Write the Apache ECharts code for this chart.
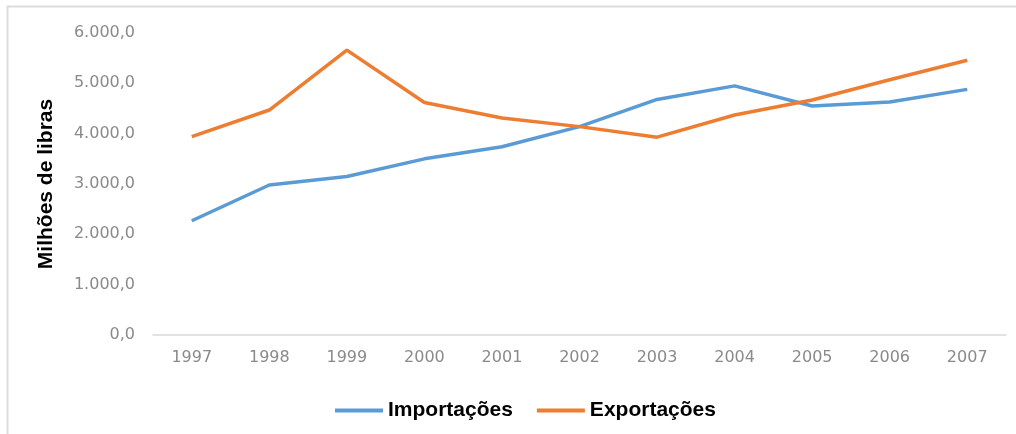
<!DOCTYPE html>
<html>
<head>
<meta charset="utf-8">
<script src="https://cdn.jsdelivr.net/npm/echarts@6/dist/echarts.min.js"></script>
<style>
html,body{margin:0;padding:0;background:#fff;}
#chart{width:1016px;height:434px;}
</style>
</head>
<body>
<div id="chart"></div>
<script>
var anos = ['1997','1998','1999','2000','2001','2002','2003','2004','2005','2006','2007'];
var importacoes = [2270, 2980, 3150, 3500, 3740, 4140, 4680, 4950, 4550, 4630, 4880];
var exportacoes = [3940, 4470, 5660, 4620, 4310, 4140, 3930, 4370, 4670, 5070, 5460];

function fmt(v) {		// 6000 -> 6.000,0
    var s = Math.round(v).toString().replace(/\B(?=(\d{3})+(?!\d))/g, '.');
    return s + ',0';
}

var myChart = echarts.init(document.getElementById('chart'));
var option = {
    color: ['#5b9bd5', '#ed7d31'],
    textStyle: { fontFamily: 'Liberation Sans' },
    graphic: [
        { type: 'line', shape: { x1: 7, y1: 6.5, x2: 1016, y2: 6.5 }, style: { stroke: '#dcdcdc', lineWidth: 2 } },
        { type: 'line', shape: { x1: 7.5, y1: 6, x2: 7.5, y2: 434 }, style: { stroke: '#dcdcdc', lineWidth: 2 } }
    ],
    grid: { left: 153, right: 10, top: 33, bottom: 99 },
    legend: {
        left: 330,
        top: 395,
        itemWidth: 48,
        itemHeight: 4,
        itemGap: 24,
        icon: 'rect',
        textStyle: { fontSize: 21, fontWeight: 'bold', color: '#000', fontFamily: 'Liberation Sans' },
        data: ['Importações', 'Exportações']
    },
    xAxis: {
        type: 'category',
        data: anos,
        boundaryGap: true,
        axisLine: { lineStyle: { color: '#d9d9d9', width: 1.5 } },
        axisTick: { show: false },
        axisLabel: { color: '#8a8a8a', fontSize: 16, margin: 15, fontFamily: 'DejaVu Sans' }
    },
    yAxis: {
        type: 'value',
        min: 0,
        max: 6000,
        interval: 1000,
        name: 'Milhões de libras',
        nameLocation: 'middle',
        nameGap: 96,
        nameTextStyle: { fontSize: 21, fontWeight: 'bold', color: '#000' },
        splitLine: { show: false },
        axisLine: { show: false },
        axisTick: { show: false },
        axisLabel: { color: '#8a8a8a', fontSize: 16, margin: 18, formatter: fmt, fontFamily: 'DejaVu Sans' }
    },
    series: [
        { name: 'Importações', type: 'line', data: importacoes, symbol: 'none', lineStyle: { width: 3.5 } },
        { name: 'Exportações', type: 'line', data: exportacoes, symbol: 'none', lineStyle: { width: 3.5 } }
    ]
};
myChart.setOption(option);
</script>
</body>
</html>
